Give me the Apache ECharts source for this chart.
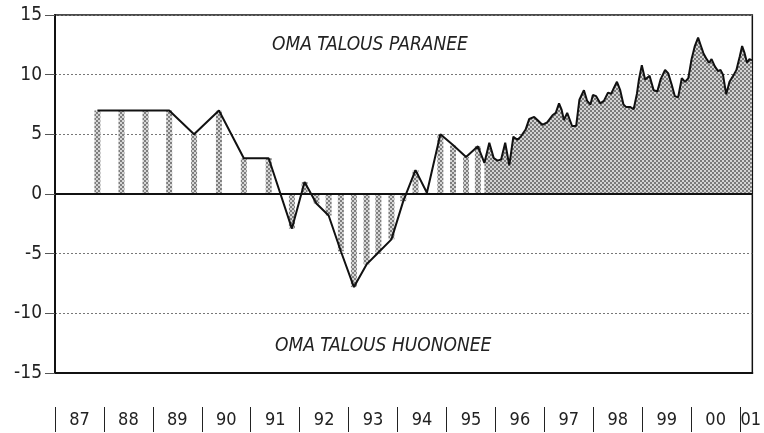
<!DOCTYPE html>
<html lang="fi">
<head>
    <meta charset="UTF-8">
    <title>Oma talous</title>
    <script src="https://cdn.jsdelivr.net/npm/echarts@6/dist/echarts.min.js"></script>
    <style>
        body { margin: 0; background: #fff; }
    </style>
</head>
<body>
<div id="main" style="width: 764px;height:433px;"></div>
<script type="text/javascript">
    // kuukausia tammikuusta 1987 lähtien
    var months = [10.4, 16.3, 22.2, 28.0, 34.1, 40.2, 46.3, 52.4,
        58.1, 61.2, 64.1, 67.1, 70.1, 73.3, 76.4, 79.3, 82.5, 85.4, 88.4, 91.2, 94.5, 97.6, 100.8, 103.7,
        105.3, 106.5, 107.6, 108.5, 109.4, 110.4, 111.4, 112.4, 113.4, 114.2, 115.4, 116.3, 117.5, 118.3,
        119.5, 120.7, 122.0, 122.8, 123.6, 124.2, 124.8, 125.6, 126.8, 127.8, 128.6, 129.7, 130.5, 131.3,
        131.9, 132.7, 133.7, 134.6, 135.6, 136.4, 137.2, 137.8, 138.6, 139.4, 140.0, 141.0, 141.9, 142.7,
        143.2, 143.9, 144.7, 145.8, 146.8, 147.7, 148.5, 149.6, 150.4, 151.2, 152.0, 152.8, 153.7, 154.5,
        155.3, 156.1, 156.9, 157.7, 158.4, 159.0, 159.8, 160.4, 161.0, 161.8, 162.6, 163.2, 163.8, 164.6,
        165.4, 166.3, 167.1, 167.9, 168.5, 169.1, 169.7, 170.3, 170.9];
    // saldoluku
    var balance = [7, 7, 7, 7, 5, 7, 3, 3,
        -2.9, 1.0, -0.8, -1.8, -4.8, -7.8, -5.9, -4.9, -3.8, -0.6, 2.0, 0.1, 5.0, 4.1, 3.1, 4.0,
        2.6, 4.3, 3.0, 2.8, 2.9, 4.3, 2.4, 4.8, 4.55, 4.8, 5.4, 6.3, 6.45, 6.2,
        5.8, 6.0, 6.6, 6.8, 7.6, 7.1, 6.2, 6.8, 5.7, 5.7, 7.9, 8.7, 7.8, 7.5,
        8.3, 8.2, 7.6, 7.8, 8.5, 8.4, 9.0, 9.4, 8.7, 7.5, 7.3, 7.3, 7.1, 8.4,
        9.6, 10.8, 9.6, 9.9, 8.7, 8.6, 9.6, 10.4, 10.1, 9.2, 8.2, 8.1, 9.7, 9.4,
        9.7, 11.3, 12.4, 13.1, 12.4, 11.8, 11.3, 11.0, 11.3, 10.7, 10.3, 10.4, 10.0, 8.35,
        9.4, 9.9, 10.4, 11.5, 12.4, 11.8, 11.0, 11.3, 11.2];
    var barCount = 24; // pylväinä piirretyt (puolivuosi/neljännesvuosi) havainnot
    var yearLabels = ['87', '88', '89', '90', '91', '92', '93', '94', '95', '96', '97', '98', '99', '00', '01'];

    var FONT = "'Liberation Sans Narrow', 'DejaVu Sans Condensed', 'Arial Narrow', sans-serif";

    // rasterikuvio
    function dots(dark, light) {
        var c = document.createElement('canvas');
        c.width = 4; c.height = 4;
        var ctx = c.getContext('2d');
        ctx.fillStyle = light; ctx.fillRect(0, 0, 4, 4);
        ctx.fillStyle = dark;
        ctx.fillRect(0, 0, 2, 2);
        ctx.fillRect(2, 2, 2, 2);
        return { image: c, repeat: 'repeat' };
    }

    var allPts = [], barPts = [], areaPts = [];
    for (var i = 0; i < months.length; i++) {
        allPts.push([months[i], balance[i]]);
        if (i < barCount) barPts.push([months[i], balance[i]]);
        else areaPts.push([months[i], balance[i]]);
    }

    var tickVals = [], labelVals = [];
    for (var k = 0; k < yearLabels.length; k++) {
        tickVals.push(k * 12);
        labelVals.push(k < yearLabels.length - 1 ? k * 12 + 6 : k * 12 + 2.6);
    }

    var myChart = echarts.init(document.getElementById('main'));
    myChart.setOption({
        animation: false,
        grid: { left: 55, right: 8, top: 15, bottom: 60, show: true, borderColor: '#111', borderWidth: 1.5 },
        xAxis: [{
            type: 'value', min: 0, max: 171,
            axisLine: { show: true, onZero: false, lineStyle: { color: '#111', width: 2 } },
            axisTick: { show: false }, axisLabel: { show: false }, splitLine: { show: false }
        }, {
            type: 'value', min: 0, max: 171, position: 'bottom', offset: 34,
            axisLine: { show: false, onZero: false },
            axisTick: { show: true, customValues: tickVals, length: 25, lineStyle: { color: '#222', width: 1 } },
            axisLabel: {
                customValues: labelVals, margin: 4, fontSize: 18, color: '#222', fontFamily: FONT,
                formatter: function (v) { return yearLabels[Math.floor(v / 12)]; }
            },
            splitLine: { show: false }
        }],
        yAxis: {
            type: 'value', min: -15, max: 15, interval: 5,
            axisLine: { show: true, lineStyle: { color: '#111', width: 2 } },
            axisTick: { show: true, length: 10, lineStyle: { color: '#555' } },
            axisLabel: { fontSize: 19, color: '#222', margin: 13, fontFamily: FONT },
            splitLine: { lineStyle: { color: '#777', type: [2, 2], width: 1 } }
        },
        graphic: [
            { type: 'text', left: 272, top: 36, style: { text: 'OMA TALOUS PARANEE', font: 'italic 19px ' + FONT, fill: '#222' } },
            { type: 'text', left: 275, top: 337, style: { text: 'OMA TALOUS HUONONEE', font: 'italic 19px ' + FONT, fill: '#222' } }
        ],
        series: [{
            type: 'bar', data: barPts, barWidth: 6, silent: true,
            itemStyle: { color: dots('#7e7e7e', '#d6d6d6') }
        }, {
            type: 'line', data: areaPts, symbol: 'none', silent: true,
            lineStyle: { width: 0 },
            areaStyle: { color: dots('#7a7a7a', '#d4d4d4'), opacity: 1 }
        }, {
            type: 'line', data: allPts, symbol: 'none', z: 5, silent: true,
            lineStyle: { color: '#111', width: 2 },
            markLine: {
                silent: true, symbol: 'none', label: { show: false },
                lineStyle: { color: '#111', width: 2, type: 'solid' },
                data: [{ yAxis: 0 }]
            }
        }]
    });
</script>
</body>
</html>
